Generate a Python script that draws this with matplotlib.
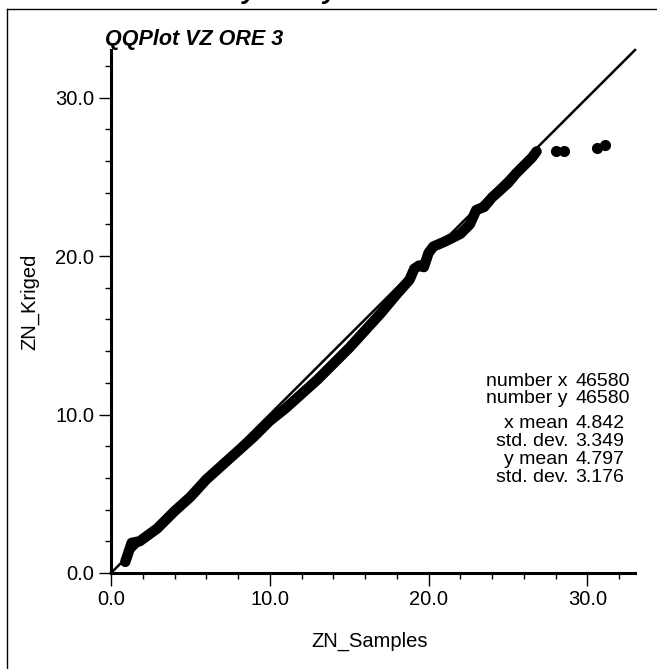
import matplotlib
matplotlib.use("Agg")
import matplotlib.pyplot as plt
from matplotlib.lines import Line2D
from matplotlib.ticker import MultipleLocator, FixedLocator

plt.rcParams['font.family'] = ['Liberation Sans', 'DejaVu Sans']

# Quantile pairs (sample quantile, kriged quantile)
samples_q = [0.9, 1.1, 1.3, 1.8, 2.9, 4.0, 5.0, 6.0, 7.0, 8.0, 9.0, 10.0,
             11.0, 12.0, 13.0, 14.0, 15.0, 16.0, 17.0, 18.0, 18.8, 19.1,
             19.4, 19.7, 20.0, 20.3, 21.0, 22.0, 22.6, 23.0, 23.5, 24.0,
             25.0, 25.5, 26.0, 26.5, 26.8]
kriged_q = [0.7, 1.3, 1.9, 2.0, 2.8, 3.9, 4.8, 5.9, 6.8, 7.7, 8.6, 9.6,
            10.4, 11.3, 12.2, 13.2, 14.2, 15.3, 16.4, 17.6, 18.5, 19.2,
            19.4, 19.3, 20.2, 20.6, 20.9, 21.4, 22.0, 22.9, 23.1, 23.7,
            24.6, 25.2, 25.7, 26.2, 26.6]

# Isolated upper-tail quantiles
tail_x = [28.0, 28.5, 30.6, 31.1]
tail_y = [26.6, 26.6, 26.8, 27.0]

major_ticks = [0, 10, 20, 30]
tick_labels = ["0.0", "10.0", "20.0", "30.0"]

stat_labels = ["number x", "number y", "x mean", "std. dev.", "y mean", "std. dev."]
stat_values = ["46580", "46580", "4.842", "3.349", "4.797", "3.176"]

W, H = 657, 669
fig = plt.figure(figsize=(W / 100, H / 100), dpi=100)
ax = fig.add_axes([111 / W, 1 - 573 / H, (635 - 111) / W, (573 - 50) / H])

ax.set_xlim(0, 33)
ax.set_ylim(0, 33)

# reference diagonal
ax.plot([0, 33], [0, 33], color='black', lw=1.8, clip_on=False, zorder=3)
# quantile curve
ax.plot(samples_q, kriged_q, color='black', lw=7.5,
        solid_capstyle='round', solid_joinstyle='round', zorder=2)
ax.plot(tail_x, tail_y, 'o', color='black', ms=7, zorder=2)

for s in ['top', 'right']:
    ax.spines[s].set_visible(False)
for s in ['left', 'bottom']:
    ax.spines[s].set_linewidth(2.2)

ax.xaxis.set_major_locator(FixedLocator(major_ticks))
ax.yaxis.set_major_locator(FixedLocator(major_ticks))
ax.xaxis.set_minor_locator(MultipleLocator(2))
ax.yaxis.set_minor_locator(MultipleLocator(2))
ax.set_xticklabels(tick_labels)
ax.set_yticklabels(tick_labels)
ax.tick_params(which='major', length=9, width=1.0, direction='out',
               labelsize=14.5, pad=3)
ax.tick_params(which='minor', length=4.5, width=1.0, direction='out')

ax.set_xlabel("ZN_Samples", fontsize=14.5)
ax.set_ylabel("ZN_Kriged", fontsize=14.5)
ax.xaxis.set_label_coords((370 - 111) / 524, (573 - 641) / 523)
ax.yaxis.set_label_coords((30 - 111) / 524, (573 - 302) / 523)
ax.xaxis.label.set_va('center')
ax.yaxis.label.set_va('center')

ax.text(-0.4, 33.65, "QQPlot VZ ORE 3", fontsize=15.5, fontweight='bold',
        style='italic', ha='left', va='center', clip_on=False)

# summary statistics
rows_y = [381, 399, 424, 442, 460, 478]
for lab, val, py in zip(stat_labels, stat_values, rows_y):
    fig.text(568 / W, 1 - py / H, lab, ha='right', va='center', fontsize=14)
    fig.text(575 / W, 1 - py / H, val, ha='left', va='center', fontsize=14)

# outer frame
fig.add_artist(Line2D([7 / W, 7 / W], [0, 1 - 9 / H], color='black',
                      lw=1.0, transform=fig.transFigure))
fig.add_artist(Line2D([7 / W, 1], [1 - 9 / H, 1 - 9 / H], color='black',
                      lw=1.0, transform=fig.transFigure))

# heading above the frame
fig.text(251 / W, 1 + 1 / H, "Validity Study", fontsize=19,
         fontweight='bold', style='italic', ha='center', va='baseline')

fig.savefig("out.png", dpi=100)
